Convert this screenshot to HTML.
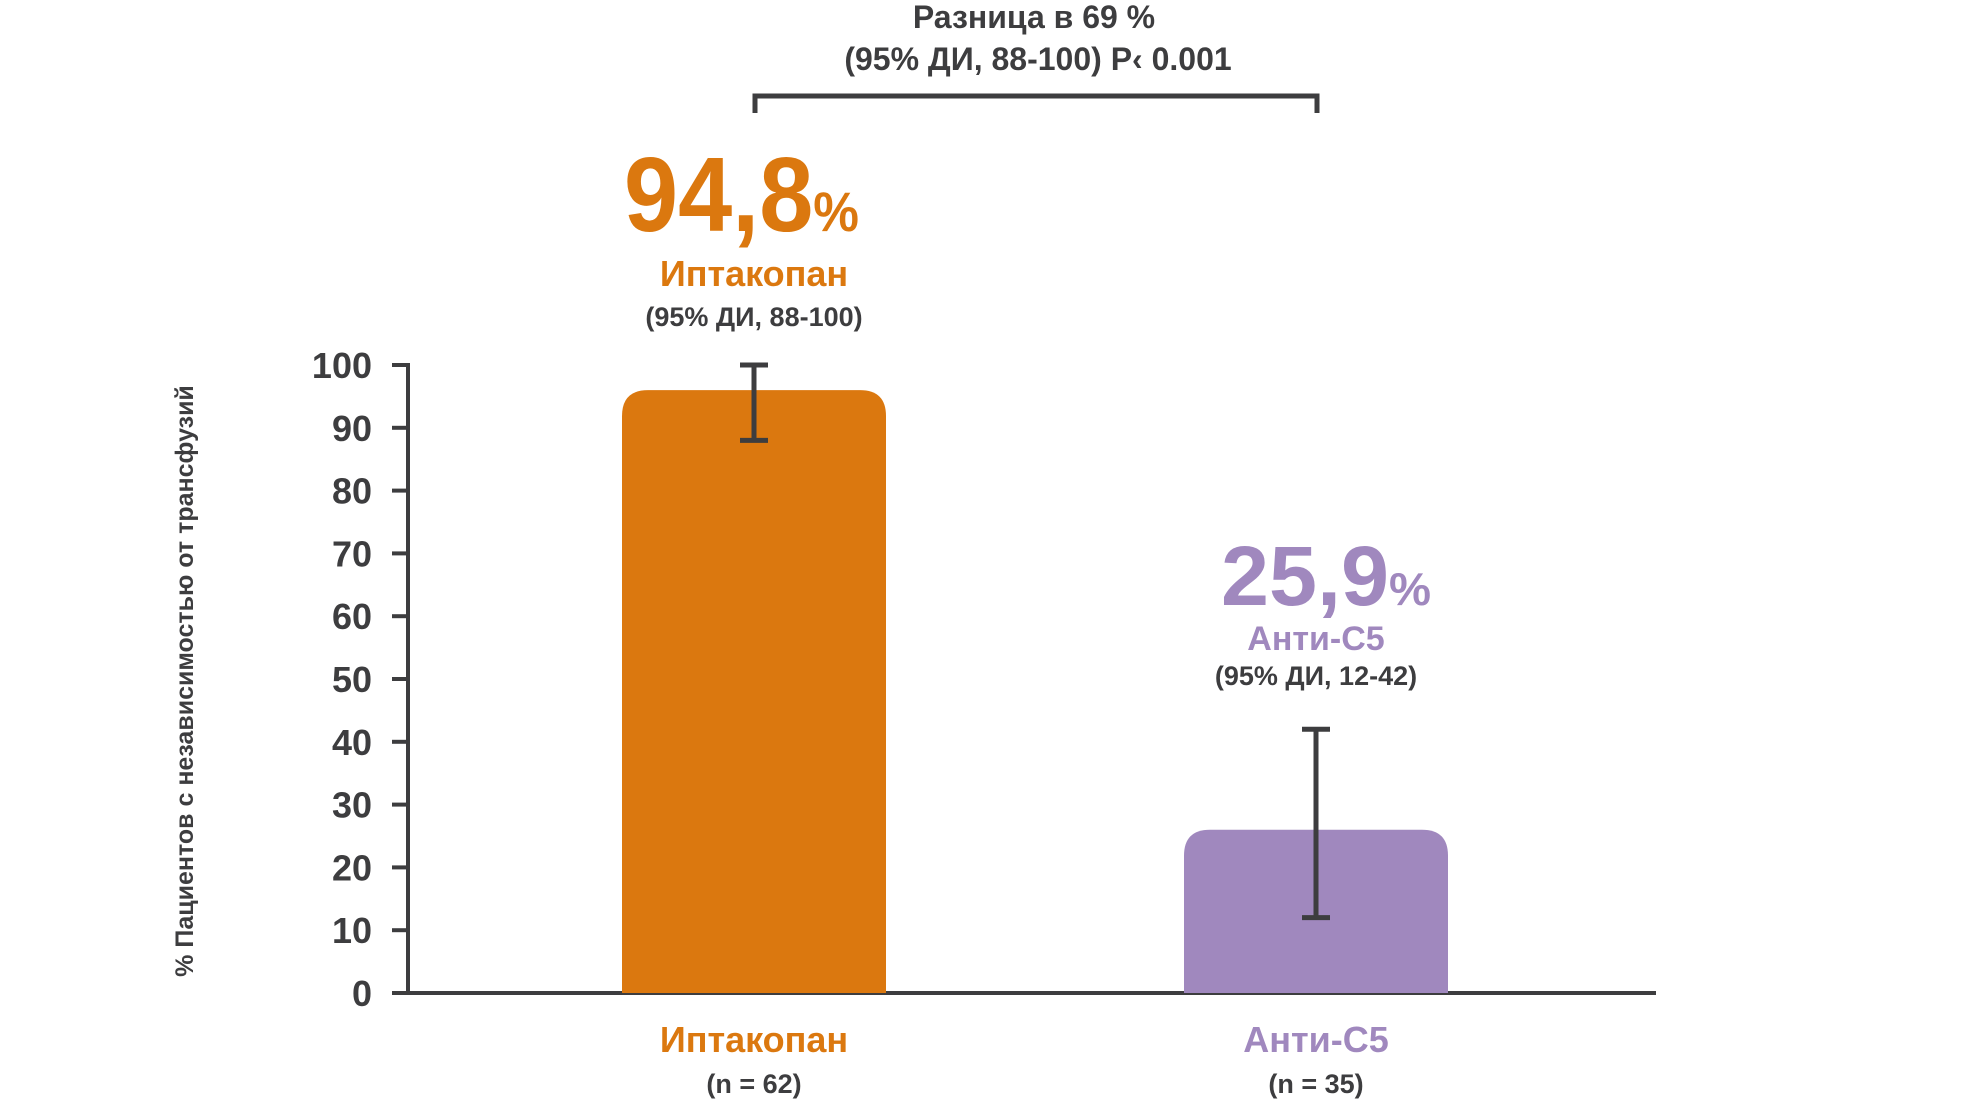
<!DOCTYPE html>
<html><head><meta charset="utf-8"><style>
html,body{margin:0;padding:0;background:#fff;}
svg{display:block;font-family:"Liberation Sans",sans-serif;}
</style></head><body>
<svg id="chart" width="1980" height="1101" viewBox="0 0 1980 1101" xmlns="http://www.w3.org/2000/svg">
<g id="axes"></g>
<g id="bars"></g>
<g>
<path d="M755 113 V96 H1317 V113" fill="none" stroke="#3d3d3f" stroke-width="5"/>
<text x="1034" y="28" text-anchor="middle" font-size="32" fill="#3d3d3f" font-weight="bold">Разница в 69 %</text>
<text x="1038" y="70" text-anchor="middle" font-size="32" fill="#3d3d3f" font-weight="bold">(95% ДИ, 88-100) P‹ 0.001</text>
</g>
<text transform="translate(193,681) rotate(-90)" text-anchor="middle" font-size="25" fill="#3d3d3f" font-weight="bold">% Пациентов с независимостью от трансфузий</text>
<g>
<text x="624" y="231" font-size="106" font-weight="bold" fill="#db780f" textLength="235" lengthAdjust="spacingAndGlyphs">94,8<tspan font-size="56">%</tspan></text>
<text x="754" y="286" text-anchor="middle" font-size="36" font-weight="bold" fill="#db780f">Иптакопан</text>
<text x="754" y="326" text-anchor="middle" font-size="27" font-weight="bold" fill="#3d3d3f">(95% ДИ, 88-100)</text>
</g>
<g>
<text x="1221" y="605" font-size="84" font-weight="bold" fill="#a088be" textLength="210" lengthAdjust="spacingAndGlyphs">25,9<tspan font-size="46">%</tspan></text>
<text x="1316" y="650" text-anchor="middle" font-size="34" font-weight="bold" fill="#a088be">Анти-C5</text>
<text x="1316" y="685" text-anchor="middle" font-size="27" font-weight="bold" fill="#3d3d3f">(95% ДИ, 12-42)</text>
</g>
</svg>
<script>
const categories=["Иптакопан","Анти-C5"];
const nLabels=["(n = 62)","(n = 35)"];
const values=[96,26];
const ciLow=[88,12];
const ciHigh=[100,42];
const yTicks=[0,10,20,30,40,50,60,70,80,90,100];
const colors=["#db780f","#a088be"];
const NS="http://www.w3.org/2000/svg";
const y0=993,y100=365,xAxis=408,xEnd=1656;
const centers=[754,1316],barW=264;
function y(v){return y0-(y0-y100)*v/100;}
function mk(t,a,p){const e=document.createElementNS(NS,t);for(const k in a)e.setAttribute(k,a[k]);p.appendChild(e);return e;}
const axes=document.getElementById('axes');
const yl=mk('line',{x1:xAxis,y1:y100-2,x2:xAxis,y2:y0+2,stroke:'#3d3d3f','stroke-width':4},axes);


yTicks.forEach(t=>{
 const l=mk('line',{x1:392,y1:y(t),x2:xAxis,y2:y(t),stroke:'#3d3d3f','stroke-width':4},axes);
 
 
 const tx=mk('text',{x:372,y:y(t)+13,'text-anchor':'end','font-size':36,'font-weight':'bold',fill:'#3d3d3f'},axes);
 
 
 tx.textContent=t;
});
const bars=document.getElementById('bars');
values.forEach((v,i)=>{
 const cx=centers[i],top=y(v),r=26;
 const p=mk('path',{d:`M${cx-barW/2} ${y0} V${top+r} Q${cx-barW/2} ${top} ${cx-barW/2+r} ${top} H${cx+barW/2-r} Q${cx+barW/2} ${top} ${cx+barW/2} ${top+r} V${y0} Z`,fill:colors[i]},bars);
 
 
 const eb=mk('path',{d:`M${cx-14} ${y(ciHigh[i])} H${cx+14} M${cx} ${y(ciHigh[i])} V${y(ciLow[i])} M${cx-14} ${y(ciLow[i])} H${cx+14}`,stroke:'#3d3d3f','stroke-width':5,fill:'none'},bars);
 
 
 const c=mk('text',{x:cx,y:1052,'text-anchor':'middle','font-size':36,'font-weight':'bold',fill:colors[i]},bars);
 
 
 c.textContent=categories[i];
 const n=mk('text',{x:cx,y:1093,'text-anchor':'middle','font-size':27,'font-weight':'bold',fill:'#3d3d3f'},bars);
 
 
 n.textContent=nLabels[i];
});
const xl=mk('line',{x1:392,y1:y0,x2:xEnd,y2:y0,stroke:'#3d3d3f','stroke-width':4},axes);


</script>
</body></html>
